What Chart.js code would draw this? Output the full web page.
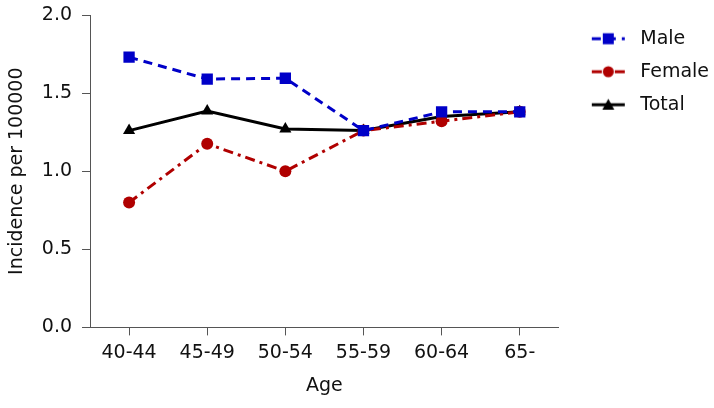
<!DOCTYPE html>
<html>
<head>
<meta charset="utf-8">
<script src="https://cdn.jsdelivr.net/npm/chart.js@4"></script>
<style>
  html, body { margin: 0; padding: 0; background: #fff; }
  #wrap { width: 714px; height: 408px; }
</style>
</head>
<body>
<div id="wrap"><canvas id="chart"></canvas></div>
<script>
const ageGroups = ['40-44', '45-49', '50-54', '55-59', '60-64', '65-'];
const maleData = [1.73, 1.59, 1.595, 1.26, 1.38, 1.38];
const femaleData = [0.80, 1.175, 1.00, 1.26, 1.32, 1.38];
const totalData = [1.26, 1.385, 1.27, 1.26, 1.35, 1.38];
const yTicks = [0, 0.5, 1.0, 1.5, 2.0];

const FONT = 'DejaVu Sans';
const FS = 19;
const axisColor = '#555';
const textColor = '#111';
const ICON_W = 58;

// canvas with line + marker for the legend, drawn in the right part
function legendIcon(color, dash, shape) {
  const c = document.createElement('canvas');
  c.width = ICON_W; c.height = 14;
  const g = c.getContext('2d');
  const x1 = ICON_W - 6, x0 = x1 - 33, xm = x0 + 16.5;
  g.strokeStyle = color;
  g.fillStyle = color;
  g.lineWidth = 3;
  g.setLineDash(dash);
  g.beginPath();
  g.moveTo(x0, 7); g.lineTo(x1, 7);
  g.stroke();
  g.setLineDash([]);
  if (shape === 'rect') {
    g.fillRect(xm - 5.5, 1.5, 11, 11);
  } else if (shape === 'circle') {
    g.beginPath(); g.arc(xm, 7, 5.5, 0, Math.PI * 2); g.fill();
  } else {
    g.beginPath(); g.moveTo(xm, 1); g.lineTo(xm + 6, 12); g.lineTo(xm - 6, 12); g.closePath(); g.fill();
  }
  return c;
}

const series = [
  { label: 'Male', data: maleData, color: '#0000c8', dash: [9, 6], shape: 'rect', radius: 8 },
  { label: 'Female', data: femaleData, color: '#b00000', dash: [10, 5, 3, 5], shape: 'circle', radius: 6 },
  { label: 'Total', data: totalData, color: '#000000', dash: [], shape: 'triangle', radius: 7 }
];

const ctx = document.querySelector('#chart').getContext('2d');
new Chart(ctx, {
  type: 'line',
  data: {
    labels: ageGroups,
    datasets: series.map(s => ({
      label: s.label,
      data: s.data,
      borderColor: s.color,
      backgroundColor: s.color,
      borderWidth: 3,
      borderDash: s.dash,
      pointStyle: s.shape,
      pointRadius: s.radius,
      pointBackgroundColor: s.color,
      pointBorderColor: s.color,
      pointBorderWidth: 0,
      tension: 0,
      fill: false
    }))
  },
  options: {
    responsive: true,
    maintainAspectRatio: false,
    animation: false,
    layout: { padding: { top: 1, right: -5, left: 4, bottom: 11 } },
    plugins: {
      legend: {
        position: 'right',
        align: 'start',
        title: { display: true, text: '', color: textColor, font: { size: 1 }, padding: { top: 0, bottom: 13 } },
        labels: {
          usePointStyle: true,
          pointStyleWidth: ICON_W,
          color: textColor,
          font: { family: FONT, size: FS },
          padding: 14,
          generateLabels: chart => series.map((s, i) => ({
            text: s.label,
            fontColor: textColor,
            pointStyle: legendIcon(s.color, s.dash, s.shape),
            datasetIndex: i,
            hidden: false,
            lineWidth: 0
          }))
        }
      },
      tooltip: { enabled: false }
    },
    scales: {
      x: {
        offset: true,
        grid: { drawOnChartArea: false, drawTicks: true, tickLength: 8, color: axisColor, offset: false },
        border: { color: axisColor, width: 1 },
        ticks: { color: textColor, font: { family: FONT, size: FS }, padding: 6 },
        title: { display: true, text: 'Age', color: textColor, font: { family: FONT, size: FS }, padding: { top: 4, bottom: 0 } }
      },
      y: {
        min: 0,
        max: 2.0,
        afterBuildTicks: axis => { axis.ticks = yTicks.map(v => ({ value: v })); },
        afterFit: axis => { axis.paddingTop = 15; },
        grid: { drawOnChartArea: false, drawTicks: true, tickLength: 8, color: axisColor },
        border: { color: axisColor, width: 1 },
        ticks: { color: textColor, font: { family: FONT, size: FS }, padding: 10, callback: v => Number(v).toFixed(1) },
        title: { display: true, text: 'Incidence per 100000', color: textColor, font: { family: FONT, size: FS }, padding: { top: 2, bottom: 3 } }
      }
    }
  }
});
</script>
</body>
</html>
